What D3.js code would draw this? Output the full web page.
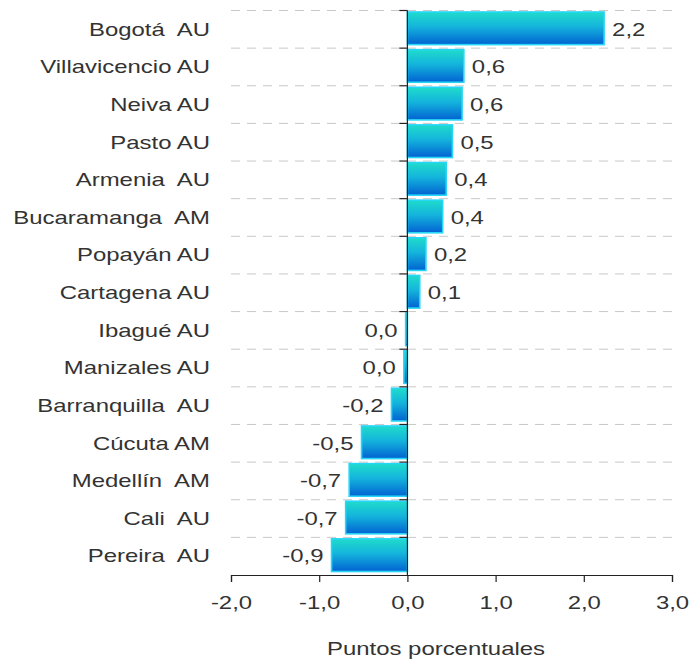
<!DOCTYPE html>
<html>
<head>
<meta charset="utf-8">
<script src="https://cdn.jsdelivr.net/npm/d3@7"></script>
<style>
  html, body { margin: 0; padding: 0; background: #fff; }
  svg { display: block; font-family: "Liberation Sans", Arial, sans-serif; }
  text { white-space: pre; }
</style>
</head>
<body>
<svg id="chart" width="691" height="664"></svg>
<script>
// Cities (areas urbanas / metropolitanas) and their contribution, in percentage points
const categories = [
  "Bogotá  AU", "Villavicencio AU", "Neiva AU", "Pasto AU", "Armenia  AU",
  "Bucaramanga  AM", "Popayán AU", "Cartagena AU", "Ibagué AU", "Manizales AU",
  "Barranquilla  AU", "Cúcuta AM", "Medellín  AM", "Cali  AU", "Pereira  AU"
];
const values = [
  2.23, 0.64, 0.62, 0.51, 0.44,
  0.40, 0.21, 0.14, -0.02, -0.04,
  -0.18, -0.52, -0.66, -0.70, -0.86
];
const xTicks = [-2, -1, 0, 1, 2, 3];
const xTitle = "Puntos porcentuales";

const svg = d3.select("#chart");
const margin = { left: 231, right: 19, top: 10.5, bottom: 89 };
const W = 691, H = 664;
const FS = 18;      // font size
const SX = 1.33;    // wide lettering

const x = d3.scaleLinear().domain([-2, 3]).range([margin.left, W - margin.right]);
const y = d3.scaleBand().domain(categories).range([margin.top, H - margin.bottom]).padding(0);

const loc = d3.formatLocale({ decimal: ",", thousands: ".", grouping: [3], currency: ["$", ""], minus: "-" });
const fmt = loc.format(".1f");

// Gradient for the bars
const defs = svg.append("defs");
const grad = defs.append("linearGradient").attr("id", "barGrad")
  .attr("x1", 0).attr("y1", 0).attr("x2", 0).attr("y2", 1);
grad.append("stop").attr("offset", "0%").attr("stop-color", "#1fdccb");
grad.append("stop").attr("offset", "45%").attr("stop-color", "#14b4dc");
grad.append("stop").attr("offset", "100%").attr("stop-color", "#0262d2");

// Dashed horizontal separators between categories
const bounds = categories.map(c => y(c));
svg.append("g").selectAll("line").data(bounds).join("line")
  .attr("x1", x(-2)).attr("x2", x(3))
  .attr("y1", d => d).attr("y2", d => d)
  .attr("stroke", "#c8c8c8").attr("stroke-width", 1)
  .attr("stroke-dasharray", "9,7");

// Bars
const bh = y.bandwidth();
svg.append("g").selectAll("rect").data(categories).join("rect")
  .attr("x", (c, i) => x(Math.min(0, values[i])))
  .attr("y", c => y(c) + 1.5)
  .attr("width", (c, i) => Math.abs(x(values[i]) - x(0)))
  .attr("height", bh - 5)
  .attr("fill", "url(#barGrad)")
  .attr("stroke", "#26d6f6").attr("stroke-width", 1.6);

// Value labels
svg.append("g").selectAll("text").data(categories).join("text")
  .attr("transform", (c, i) => {
    const tx = values[i] > 0 ? x(values[i]) + 8 : x(values[i]) - 8;
    return `translate(${tx},${y(c) + bh / 2}) scale(${SX},1)`;
  })
  .attr("dy", "0.35em")
  .attr("text-anchor", (c, i) => values[i] > 0 ? "start" : "end")
  .attr("font-size", FS).attr("fill", "#333")
  .text((c, i) => fmt(values[i]));

// Y axis at zero with outward ticks on category boundaries
const yAxisG = svg.append("g");
yAxisG.append("line")
  .attr("x1", x(0)).attr("x2", x(0))
  .attr("y1", margin.top).attr("y2", H - margin.bottom)
  .attr("stroke", "#222").attr("stroke-width", 1.2);
yAxisG.selectAll("line.tk").data(bounds).join("line").attr("class", "tk")
  .attr("x1", x(0) - 8).attr("x2", x(0))
  .attr("y1", d => d).attr("y2", d => d)
  .attr("stroke", "#222").attr("stroke-width", 1.2);

// Category labels
svg.append("g").selectAll("text").data(categories).join("text")
  .attr("transform", c => `translate(210,${y(c) + bh / 2}) scale(${SX},1)`)
  .attr("dy", "0.35em")
  .attr("text-anchor", "end")
  .attr("font-size", FS).attr("fill", "#333")
  .text(c => c);

// X axis
const xAxis = d3.axisBottom(x).tickValues(xTicks).tickFormat(fmt).tickSize(7).tickPadding(14);
const xg = svg.append("g").attr("transform", `translate(0,${H - margin.bottom})`).call(xAxis);
xg.select(".domain").attr("stroke", "#222").attr("stroke-width", 1.2);
xg.selectAll(".tick line").attr("stroke", "#222").attr("stroke-width", 1.2);
xg.selectAll(".tick text").attr("font-size", FS).attr("fill", "#333")
  .attr("font-family", "'Liberation Sans', Arial, sans-serif")
  .attr("transform", `scale(${SX},1)`);

// Axis title
svg.append("text")
  .attr("transform", `translate(436,655) scale(${SX},1)`)
  .attr("text-anchor", "middle")
  .attr("font-size", FS).attr("fill", "#333")
  .text(xTitle);
</script>
</body>
</html>
